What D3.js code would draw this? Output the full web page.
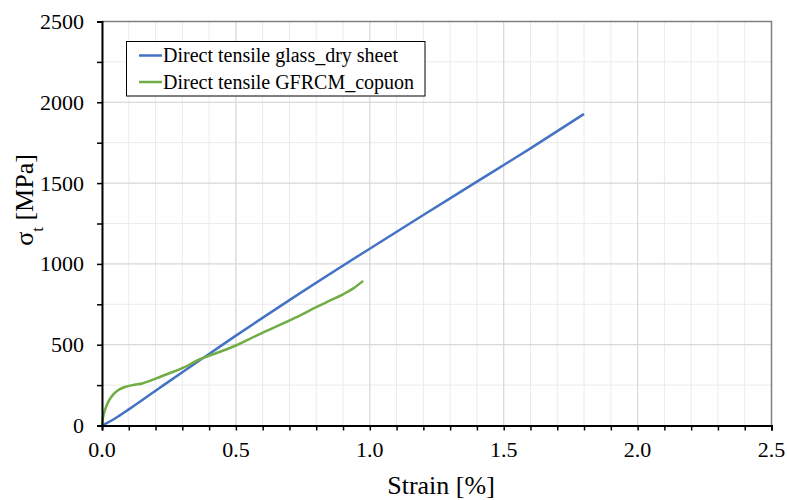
<!DOCTYPE html>
<html>
<head>
<meta charset="utf-8">
<script src="https://cdn.jsdelivr.net/npm/d3@7"></script>
<style>
  html, body { margin: 0; padding: 0; background: #fff; }
  svg { display: block; }
  svg text { font-family: "Liberation Serif", "Times New Roman", "DejaVu Serif", serif; fill: #000; }
</style>
</head>
<body>
<svg id="chart" width="787" height="500"></svg>
<script>
// ---- data ----
const seriesNames = ["Direct tensile glass_dry sheet", "Direct tensile GFRCM_copuon"];
const seriesColors = ["#4472C4", "#70AD47"];

const glassStrain = [0, 0.05, 0.1, 0.2, 0.3, 0.4, 0.5, 0.7, 0.964, 1.2, 1.4, 1.6, 1.8];
const glassStress = [0, 45, 100, 215, 330, 443, 556, 776, 1057, 1303, 1509, 1715, 1928];

const gfrcmStrain = [0, 0.004, 0.01, 0.02, 0.03, 0.04, 0.06, 0.085, 0.12, 0.15, 0.2, 0.25, 0.3, 0.366, 0.43, 0.5, 0.55, 0.615, 0.68, 0.74, 0.8, 0.85, 0.9, 0.94, 0.975];
const gfrcmStress = [0, 50, 90, 135, 165, 188, 218, 238, 252, 260, 290, 322, 355, 410, 450, 495, 535, 585, 635, 682, 732, 772, 812, 850, 895];

const xTicks = [0, 0.5, 1.0, 1.5, 2.0, 2.5];
const yTicks = [0, 500, 1000, 1500, 2000, 2500];
const xMinor = d3.range(0, 2.5001, 0.1);
const yMinor = d3.range(0, 2500.1, 250);

// ---- layout ----
const FONT = "'Liberation Serif', 'Times New Roman', 'DejaVu Serif', serif";
const svg = d3.select("#chart");
const pL = 102, pR = 771.5, pT = 21.5, pB = 425.5;
const x = d3.scaleLinear().domain([0, 2.5]).range([pL, pR]);
const y = d3.scaleLinear().domain([0, 2500]).range([pB, pT]);

// grid
const grid = svg.append("g");
grid.selectAll(".vmin").data(xMinor).enter().append("line")
  .attr("x1", d => x(d)).attr("x2", d => x(d)).attr("y1", pT).attr("y2", pB)
  .attr("stroke", "#ebebeb").attr("stroke-width", 1);
grid.selectAll(".hmin").data(yMinor).enter().append("line")
  .attr("y1", d => y(d)).attr("y2", d => y(d)).attr("x1", pL).attr("x2", pR)
  .attr("stroke", "#ebebeb").attr("stroke-width", 1);
grid.selectAll(".vmaj").data(xTicks).enter().append("line")
  .attr("x1", d => x(d)).attr("x2", d => x(d)).attr("y1", pT).attr("y2", pB)
  .attr("stroke", "#d6d6d6").attr("stroke-width", 1);
grid.selectAll(".hmaj").data(yTicks).enter().append("line")
  .attr("y1", d => y(d)).attr("y2", d => y(d)).attr("x1", pL).attr("x2", pR)
  .attr("stroke", "#d6d6d6").attr("stroke-width", 1);

// frame (top/right)
svg.append("path")
  .attr("d", `M${pL},${pT}H${pR}V${pB}`)
  .attr("fill", "none").attr("stroke", "#7f7f7f").attr("stroke-width", 1.5);

// lines
const line = d3.line().x(d => x(d[0])).y(d => y(d[1])).curve(d3.curveMonotoneX);
const glassData = glassStrain.map((s, i) => [s, glassStress[i]]);
const gfrcmData = gfrcmStrain.map((s, i) => [s, gfrcmStress[i]]);
svg.append("path").datum(glassData).attr("d", line)
  .attr("fill", "none").attr("stroke", seriesColors[0]).attr("stroke-width", 2.5);
svg.append("path").datum(gfrcmData).attr("d", line)
  .attr("fill", "none").attr("stroke", seriesColors[1]).attr("stroke-width", 2.5);

// axes
const xAxis = d3.axisBottom(x).tickValues(xMinor).tickSize(5).tickFormat("");
const gx = svg.append("g").attr("transform", `translate(0,${pB})`).call(xAxis);
gx.select(".domain").attr("stroke", "#000").attr("stroke-width", 2);
gx.selectAll(".tick line").attr("stroke", "#000").attr("stroke-width", 1.5);

const yAxis = d3.axisLeft(y).tickValues(yMinor).tickSize(5).tickFormat("");
const gy = svg.append("g").attr("transform", `translate(${pL},0)`).call(yAxis);
gy.select(".domain").attr("stroke", "#000").attr("stroke-width", 2);
gy.selectAll(".tick line").attr("stroke", "#000").attr("stroke-width", 1.5);

// tick labels
svg.selectAll(".xlab").data(xTicks).enter().append("text")
  .attr("x", d => x(d)).attr("y", 457).attr("text-anchor", "middle")
  .attr("font-family", FONT).style("font-family", FONT)
  .style("font-size", "22px").text(d => d.toFixed(1));
svg.selectAll(".ylab").data(yTicks).enter().append("text")
  .attr("x", 84).attr("y", d => y(d) + 7.5).attr("text-anchor", "end")
  .attr("font-family", FONT).style("font-family", FONT)
  .style("font-size", "22px").text(d => d);

// axis titles
svg.append("text").attr("x", 441).attr("y", 494).attr("text-anchor", "middle")
  .attr("font-family", FONT).style("font-family", FONT)
  .style("font-size", "26px").text("Strain [%]");
const yt = svg.append("text").attr("transform", "translate(33,200) rotate(-90)")
  .attr("font-family", FONT).style("font-family", FONT)
  .attr("text-anchor", "middle").style("font-size", "26px");
yt.append("tspan").text("σ");
yt.append("tspan").attr("baseline-shift", "sub").style("font-size", "17px").text("t");
yt.append("tspan").text(" [MPa]");

// legend
const lg = svg.append("g");
lg.append("rect").attr("x", 126.5).attr("y", 41.5).attr("width", 298.5).attr("height", 54.5)
  .attr("fill", "#fff").attr("stroke", "#000").attr("stroke-width", 1);
seriesNames.forEach((n, i) => {
  const cy = 55.5 + i * 26.5;
  lg.append("line").attr("x1", 139).attr("x2", 162).attr("y1", cy).attr("y2", cy)
    .attr("stroke", seriesColors[i]).attr("stroke-width", 2.5);
  lg.append("text").attr("x", 163).attr("y", cy + 6.5)
    .attr("font-family", FONT).style("font-family", FONT)
    .style("font-size", "20px").text(n);
});
</script>
</body>
</html>
